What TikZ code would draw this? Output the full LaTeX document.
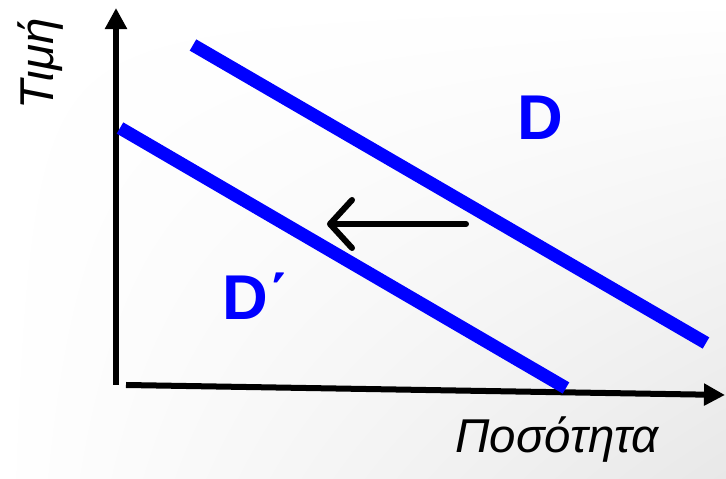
\documentclass[tikz,border=0pt]{standalone}
\usepackage{fontspec}
\setmainfont{Liberation Sans}
\usetikzlibrary{arrows.meta, calc, shadings}

\begin{document}
\begin{tikzpicture}[x=0.01cm, y=-0.01cm, every node/.style={inner sep=0pt}]
  \shade[upper left=white, upper right=white, lower left=white, lower right=black!9] (0,0) rectangle (726,479);
  \useasboundingbox (0,0) rectangle (726,479);
  \coordinate (origin) at (116,385);
  \coordinate (ytop) at (116,8);
  \coordinate (xstart) at (126,385);
  \coordinate (xend) at (725,395);
  \coordinate (dA) at (193,45);
  \coordinate (dB) at (706,343);
  \coordinate (dpA) at (120,128);
  \coordinate (dpB) at (566,388);
  \coordinate (shiftA) at (466,224);
  \coordinate (shiftB) at (327,224);
  \draw[line width=0.6mm, -{Triangle[length=2.1mm, width=2.1mm]}] (origin) -- (ytop);
  \draw[line width=0.6mm, -{Triangle[length=2.1mm, width=2.1mm]}] (xstart) -- (xend);
  \draw[blue, line width=1.3mm] (dA) -- (dB);
  \draw[blue, line width=1.3mm] (dpA) -- (dpB);
  \draw[line width=0.6mm, line cap=round, -{Straight Barb[length=2.2mm, width=4.8mm, round]}] (shiftA) -- (shiftB);
  \node[blue, font=\fontsize{18pt}{20pt}\selectfont\bfseries] (dlabel) at (540,118) {D};
  \node[blue, font=\fontsize{18pt}{20pt}\selectfont\bfseries] (dplabel) at (256,296) {D΄};
  \node[font=\fontsize{13.5pt}{15pt}\selectfont\itshape, rotate=90] (ylabel) at (41,64) {Τιμή};
  \node[font=\fontsize{13.5pt}{15pt}\selectfont\itshape] (xlabel) at (557,440) {Ποσότητα};
\end{tikzpicture}
\end{document}
